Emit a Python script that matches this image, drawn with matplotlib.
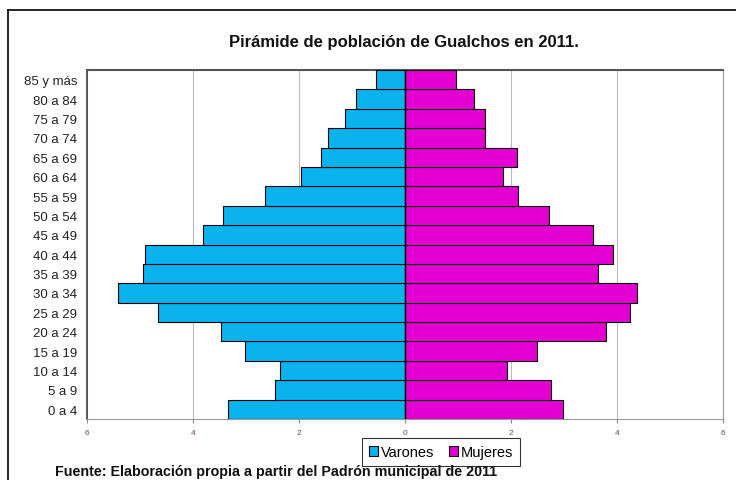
import matplotlib.pyplot as plt
import numpy as np
from matplotlib.lines import Line2D

# Grupos de edad (de abajo hacia arriba)
grupos = ['0 a 4', '5 a 9', '10 a 14', '15 a 19', '20 a 24', '25 a 29',
          '30 a 34', '35 a 39', '40 a 44', '45 a 49', '50 a 54', '55 a 59',
          '60 a 64', '65 a 69', '70 a 74', '75 a 79', '80 a 84', '85 y más']

# Porcentajes
varones = [3.34, 2.45, 2.36, 3.02, 3.47, 4.66, 5.42, 4.94, 4.90, 3.81,
           3.43, 2.64, 1.96, 1.58, 1.45, 1.13, 0.92, 0.55]
mujeres = [2.98, 2.75, 1.92, 2.50, 3.80, 4.25, 4.37, 3.64, 3.93, 3.54,
           2.72, 2.13, 1.84, 2.11, 1.51, 1.51, 1.31, 0.96]

ticks_x = [-6, -4, -2, 0, 2, 4, 6]

plt.rcParams['font.family'] = ['Liberation Sans', 'DejaVu Sans']

fig = plt.figure(figsize=(7.36, 4.81), dpi=100)
ax = fig.add_axes([0.1182, 0.1268, 0.8641, 0.7256])

y = np.arange(len(grupos))
ax.barh(y, -np.array(varones), height=1.0, color='#0AB2EE', edgecolor='black',
        linewidth=0.8, label='Varones', zorder=3)
ax.barh(y, mujeres, height=1.0, color='#E400D2', edgecolor='black',
        linewidth=0.8, label='Mujeres', zorder=3)

ax.set_xlim(-6, 6)
ax.set_ylim(-0.5, len(grupos) - 0.5)
ax.set_xticks(ticks_x)
ax.set_xticklabels([str(abs(t)) for t in ticks_x], fontsize=6, color='#774455')
ax.set_yticks(y)
ax.set_yticklabels(grupos, fontsize=9.5, color='#222222')
ax.tick_params(axis='y', length=0, pad=7)
ax.tick_params(axis='x', length=3, color='#888888', pad=4)
ax.grid(axis='x', color='#bbbbbb', linewidth=0.8, zorder=0)
ax.axvline(0, color='black', linewidth=1.0, zorder=4)

ax.spines['top'].set_color('#555555')
ax.spines['top'].set_linewidth(1.5)
ax.spines['left'].set_color('#444444')
ax.spines['left'].set_linewidth(1.2)
ax.spines['right'].set_color('#999999')
ax.spines['bottom'].set_color('#999999')

fig.text(0.549, 0.912, 'Pirámide de población de Gualchos en 2011.',
         ha='center', va='center', fontsize=12, fontweight='bold', color='#111111')

leg = ax.legend(loc='upper center', bbox_to_anchor=(0.557, -0.033), ncol=2,
                frameon=True, fancybox=False, edgecolor='black',
                handlelength=0.6, handleheight=0.6, handletextpad=0.2,
                columnspacing=1.0, borderpad=0.5, prop={'size': 10.5})
leg.get_frame().set_linewidth(0.8)

fig.text(0.075, 0.018, 'Fuente: Elaboración propia a partir del Padrón municipal de 2011',
         ha='left', va='center', fontsize=10.3, fontweight='bold', color='#111111')

# marco exterior (izquierda y arriba)
fig.add_artist(Line2D([0.0109, 0.0109], [0.0, 0.977], color='black', linewidth=1.2,
                      transform=fig.transFigure))
fig.add_artist(Line2D([0.0109, 1.0], [0.977, 0.977], color='black', linewidth=1.2,
                      transform=fig.transFigure))

fig.savefig('out.png', dpi=100)
